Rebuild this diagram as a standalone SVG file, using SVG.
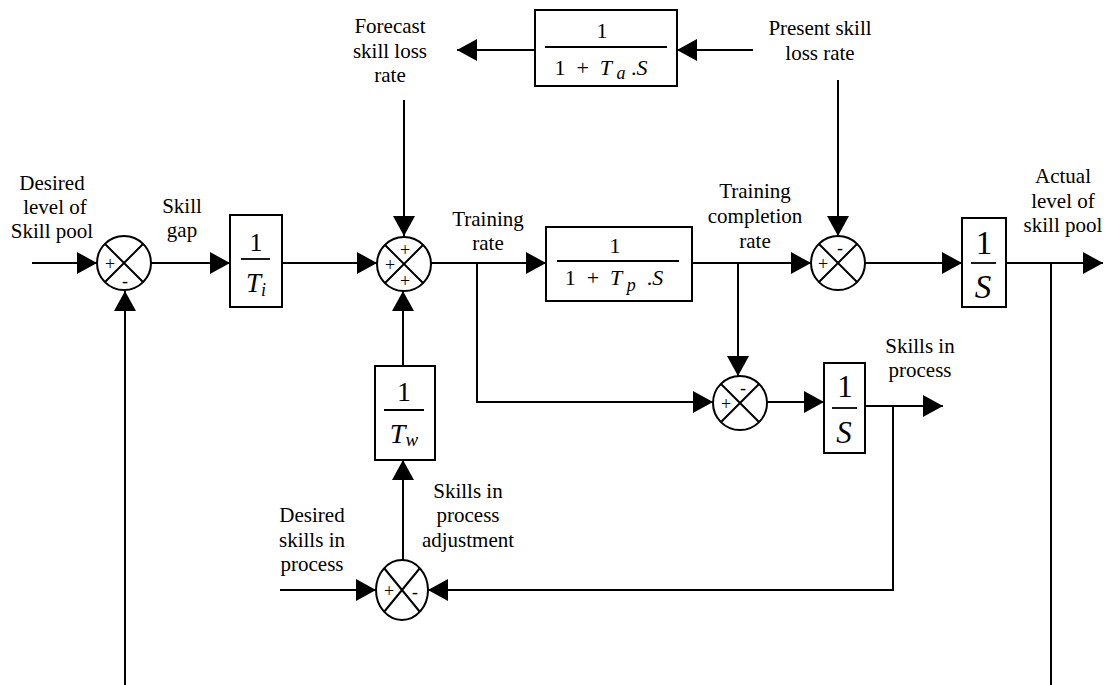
<svg xmlns="http://www.w3.org/2000/svg" width="1106" height="685" viewBox="0 0 1106 685">
<style>
.t{font-family:"Liberation Serif","DejaVu Serif","Times New Roman",serif;font-size:21px;fill:#000;text-anchor:middle}
.f{font-family:"Liberation Serif","DejaVu Serif","Times New Roman",serif;fill:#000;text-anchor:middle}
.i{font-style:italic}
.sg{font-family:"Liberation Serif","DejaVu Serif","Times New Roman",serif;font-size:18px;fill:#000;text-anchor:middle}
.box{fill:#fff;stroke:#000;stroke-width:2}
.sum{fill:#fff;stroke:#000;stroke-width:2}
.x{stroke:#000;stroke-width:2}
.c{fill:none;stroke:#000;stroke-width:2}
.c.a{marker-end:url(#ah)}
.fl{stroke:#000;stroke-width:1.8}
</style>
<defs>
<marker id="ah" markerUnits="userSpaceOnUse" markerWidth="20" markerHeight="22" refX="20" refY="11" orient="auto">
<path d="M0,0 L20,11 L0,22 z" fill="#000"/>
</marker>
</defs>
<rect width="1106" height="685" fill="#fff"/>

<g id="connectors">
<path class="c a" d="M32,263 H97"/>
<path class="c a" d="M151,263 H230"/>
<path class="c a" d="M282,263 H377"/>
<path class="c a" d="M404,100 V236"/>
<path class="c a" d="M403,366 V291"/>
<path class="c a" d="M431,263 H546"/>
<path class="c a" d="M477,263 V402 H713"/>
<path class="c a" d="M692,263 H811"/>
<path class="c a" d="M738,263 V376"/>
<path class="c a" d="M838,80 V236"/>
<path class="c a" d="M865,263 H962"/>
<path class="c a" d="M1006,263 H1103"/>
<path class="c" d="M1051,263 V685"/>
<path class="c a" d="M125,685 V291"/>
<path class="c a" d="M767,402 H824"/>
<path class="c a" d="M865,406 H943"/>
<path class="c a" d="M893,406 V590 H428"/>
<path class="c a" d="M280,590 H376"/>
<path class="c a" d="M403,560 V460"/>
<path class="c a" d="M753,50 H677"/>
<path class="c a" d="M535,50 H457"/>
</g>

<g id="sum1">
<circle class="sum" cx="124" cy="263" r="27"/>
<path class="x" d="M105,244 L143,282 M143,244 L105,282"/>
<text class="sg" x="110" y="270">+</text>
<text class="sg" x="125" y="287">-</text>
</g>

<g id="block-ti">
<rect class="box" x="230" y="215" width="52" height="92"/>
<text class="f" x="256" y="251" font-size="26">1</text>
<line class="fl" x1="241" y1="259" x2="270" y2="259"/>
<text class="f i" x="256" y="292" font-size="27">T<tspan font-size="18" dy="4">i</tspan></text>
</g>

<g id="sum2">
<circle class="sum" cx="404" cy="264" r="27"/>
<path class="x" d="M385,245 L423,283 M423,245 L385,283"/>
<text class="sg" x="405" y="256">+</text>
<text class="sg" x="390" y="271">+</text>
<text class="sg" x="405" y="287">+</text>
</g>

<g id="block-tw">
<rect class="box" x="375" y="366" width="60" height="94"/>
<text class="f" x="404" y="401" font-size="28">1</text>
<line class="fl" x1="384" y1="410" x2="424" y2="410"/>
<text class="f i" x="404" y="443" font-size="28">T<tspan font-size="19" dy="3">w</tspan></text>
</g>

<g id="block-tp">
<rect class="box" x="546" y="227" width="146" height="74"/>
<text class="f" x="615" y="253" font-size="22">1</text>
<line class="fl" x1="557" y1="261" x2="679" y2="261"/>
<text class="f" x="614" y="285" font-size="22" xml:space="preserve">1  +  <tspan class="i">T</tspan><tspan class="i" font-size="18" dy="6"> p</tspan><tspan dy="-6">  .</tspan><tspan class="i">S</tspan></text>
</g>

<g id="block-ta">
<rect class="box" x="535" y="10" width="142" height="76"/>
<text class="f" x="602" y="38" font-size="22">1</text>
<line class="fl" x1="545" y1="47" x2="667" y2="47"/>
<text class="f" x="601" y="75" font-size="22" xml:space="preserve">1  +  <tspan class="i">T</tspan><tspan class="i" font-size="18" dy="4"> a</tspan><tspan dy="-4"> .</tspan><tspan class="i">S</tspan></text>
</g>

<g id="sum3">
<circle class="sum" cx="838" cy="263" r="27"/>
<path class="x" d="M819,244 L857,282 M857,244 L819,282"/>
<text class="sg" x="823" y="270">+</text>
<text class="sg" x="840" y="254">-</text>
</g>

<g id="block-s1">
<rect class="box" x="962" y="218" width="44" height="89"/>
<text class="f" x="984" y="254" font-size="33">1</text>
<line class="fl" x1="971" y1="263" x2="996" y2="263"/>
<text class="f i" x="983" y="298" font-size="33">S</text>
</g>

<g id="sum4">
<circle class="sum" cx="740" cy="403" r="27"/>
<path class="x" d="M721,384 L759,422 M759,384 L721,422"/>
<text class="sg" x="726" y="410">+</text>
<text class="sg" x="743" y="394">-</text>
</g>

<g id="block-s2">
<rect class="box" x="824" y="363" width="41" height="90"/>
<text class="f" x="845" y="397" font-size="31">1</text>
<line class="fl" x1="832" y1="408" x2="857" y2="408"/>
<text class="f i" x="844" y="443" font-size="31">S</text>
</g>

<g id="sum5">
<ellipse class="sum" cx="402" cy="590" rx="26" ry="30"/>
<path class="x" d="M384,568 L420,612 M420,568 L384,612"/>
<text class="sg" x="389" y="597">+</text>
<text class="sg" x="415" y="598">-</text>
</g>

<g id="labels">
<text class="t" x="52" y="190">Desired</text>
<text class="t" x="55" y="214">level of</text>
<text class="t" x="52" y="238">Skill pool</text>
<text class="t" x="182" y="213">Skill</text>
<text class="t" x="182" y="237">gap</text>
<text class="t" x="390" y="33">Forecast</text>
<text class="t" x="390" y="58">skill loss</text>
<text class="t" x="390" y="82">rate</text>
<text class="t" x="820" y="35">Present skill</text>
<text class="t" x="820" y="60">loss rate</text>
<text class="t" x="488" y="226">Training</text>
<text class="t" x="488" y="250">rate</text>
<text class="t" x="755" y="198">Training</text>
<text class="t" x="755" y="223">completion</text>
<text class="t" x="755" y="248">rate</text>
<text class="t" x="1063" y="183">Actual</text>
<text class="t" x="1063" y="208">level of</text>
<text class="t" x="1063" y="232">skill pool</text>
<text class="t" x="920" y="353">Skills in</text>
<text class="t" x="920" y="377">process</text>
<text class="t" x="312" y="522">Desired</text>
<text class="t" x="312" y="547">skills in</text>
<text class="t" x="312" y="571">process</text>
<text class="t" x="468" y="498">Skills in</text>
<text class="t" x="468" y="522">process</text>
<text class="t" x="468" y="547">adjustment</text>
</g>
</svg>
